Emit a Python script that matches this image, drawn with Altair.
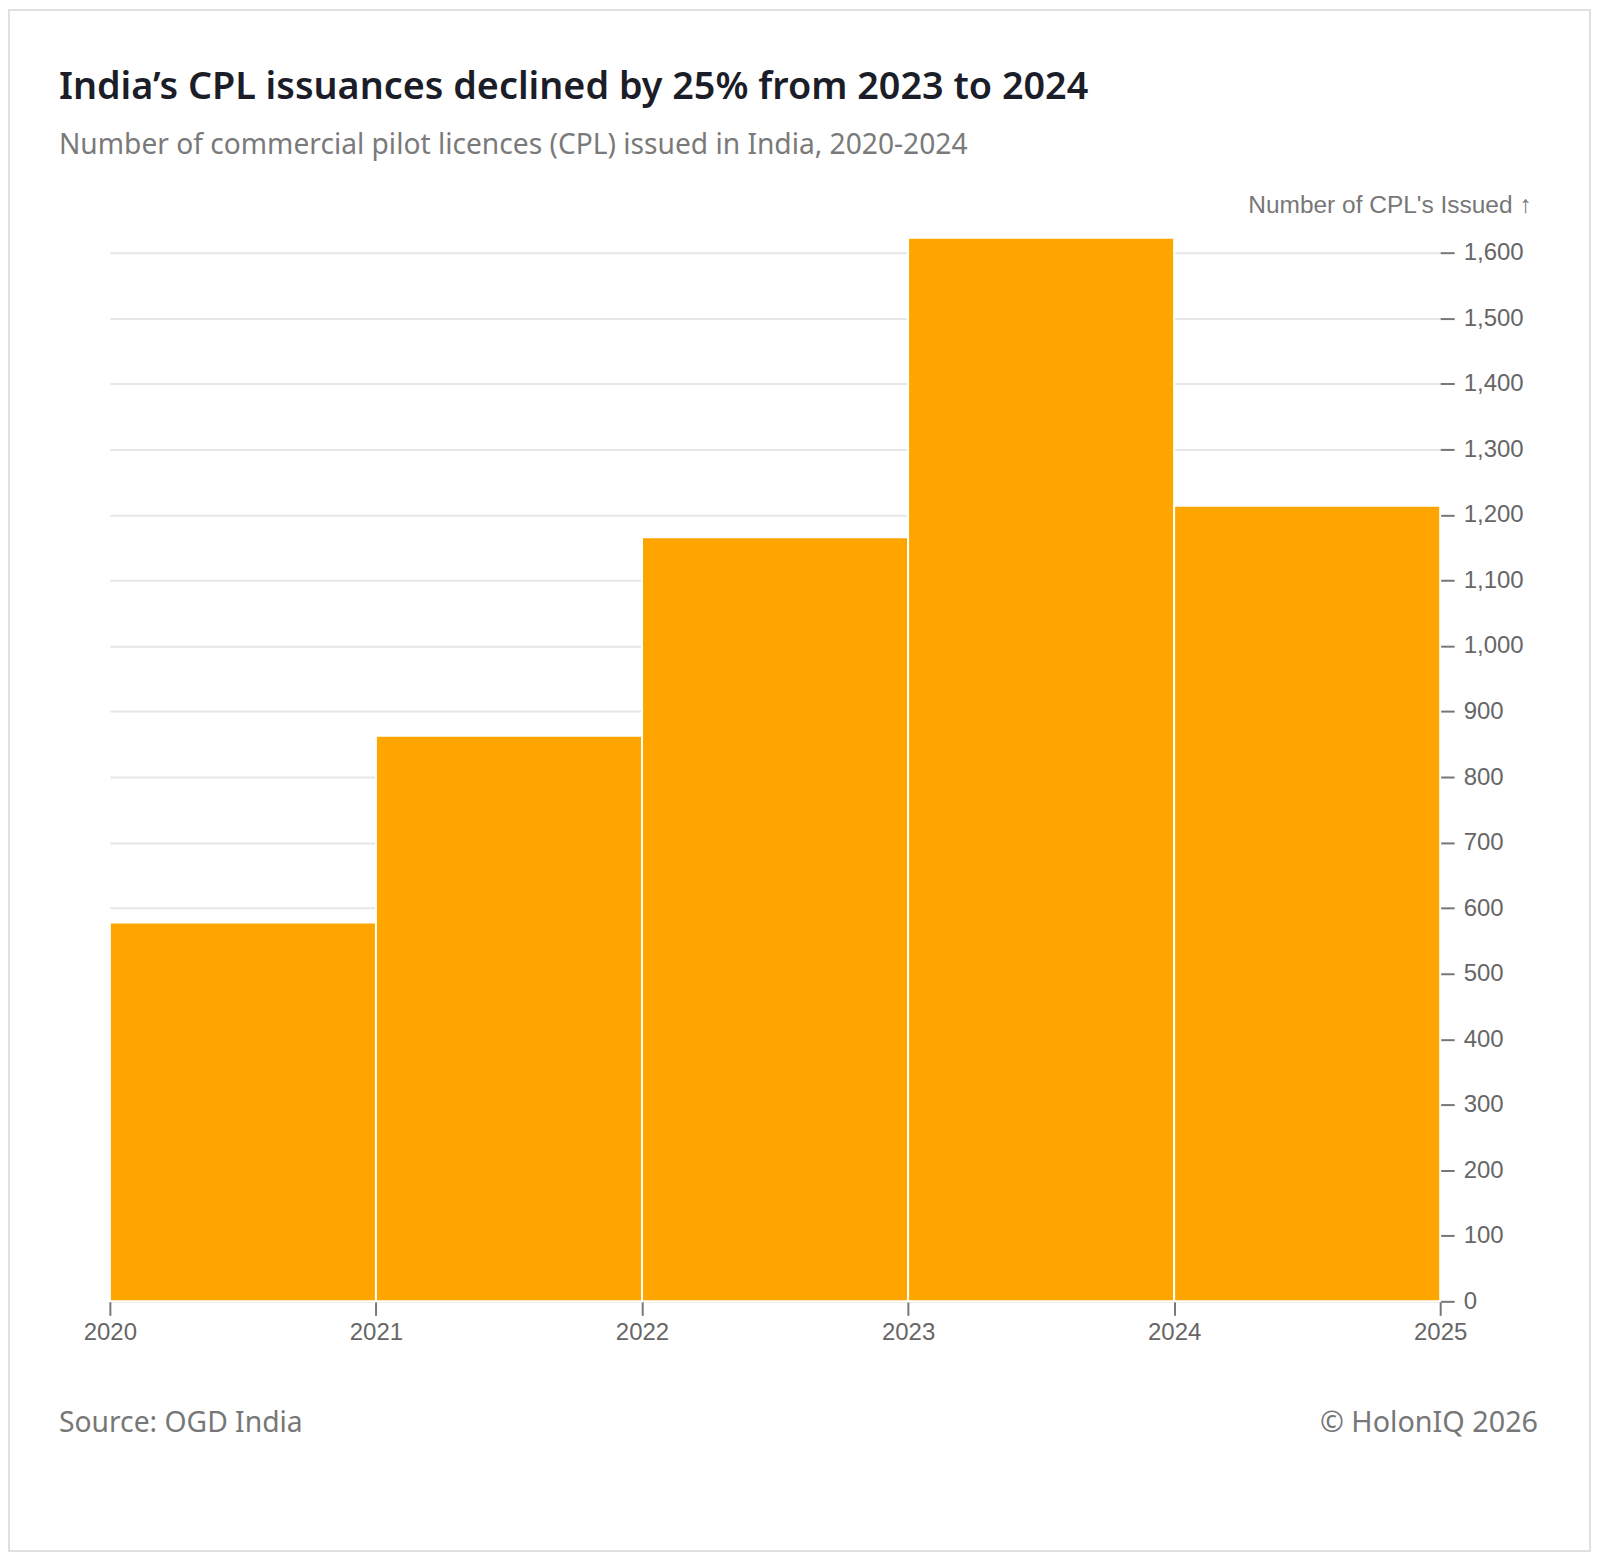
import altair as alt
import pandas as pd

years = [2020, 2021, 2022, 2023, 2024]
year_ends = [2021, 2022, 2023, 2024, 2025]
cpl_issued = [578, 863, 1166, 1623, 1214]
y_ticks = list(range(0, 1700, 100))
x_ticks = [2020, 2021, 2022, 2023, 2024, 2025]

title_text = "India\u2019s CPL issuances declined by 25% from 2023 to 2024"
subtitle_text = "Number of commercial pilot licences (CPL) issued in India, 2020-2024"
source_text = "Source: OGD India"
copyright_text = "\u00a9 HolonIQ 2026"
y_title = "Number of CPL's Issued \u2191"

df = pd.DataFrame({"year": years, "year_end": year_ends, "value": cpl_issued})
one = pd.DataFrame({"k": [0]})

W, H = 1332, 1065
AXIS_FONT = "Liberation Sans"
TEXT_FONT = "Noto Sans"

bars = alt.Chart(df).mark_rect(color="#FFA500", stroke="white", strokeWidth=2).encode(
    x=alt.X(
        "year:Q",
        scale=alt.Scale(domain=[2020, 2025], nice=False, zero=False),
        axis=alt.Axis(
            values=x_ticks, format="d", title=None, domain=False, grid=False,
            tickSize=14, tickWidth=2, tickColor="#777777",
            labelFont=AXIS_FONT, labelFontSize=24, labelColor="#666666",
            labelPadding=5, labelFlush=False,
        ),
    ),
    x2="year_end:Q",
    y=alt.Y(
        "value:Q",
        scale=alt.Scale(domain=[0, max(cpl_issued)], nice=False, zero=True),
        axis=alt.Axis(
            orient="right", values=y_ticks, format=",.0f", domain=False,
            grid=True, gridColor="#e6e6e6", gridWidth=2,
            tickSize=14, tickWidth=2, tickColor="#777777",
            labelFont=AXIS_FONT, labelFontSize=24, labelColor="#666666",
            labelPadding=9, labelFlush=False,
            title=y_title, titleFont=AXIS_FONT, titleFontSize=24.5,
            titleFontWeight="normal", titleColor="#777777", titleAngle=0,
            titleAlign="right", titleBaseline="alphabetic", titleX=91, titleY=-25,
        ),
    ),
    y2=alt.datum(0),
)

border = alt.Chart(one).mark_rect(
    fillOpacity=0, stroke="#e0e0e0", strokeWidth=2
).encode(
    x=alt.value(-101), x2=alt.value(1482), y=alt.value(-228), y2=alt.value(1315)
)

title = alt.Chart(one).mark_text(
    text=title_text, align="left", baseline="alphabetic", font=TEXT_FONT,
    fontSize=37.8, fontWeight=600, color="#1b1e28"
).encode(x=alt.value(-51), y=alt.value(-139))

subtitle = alt.Chart(one).mark_text(
    text=subtitle_text, align="left", baseline="alphabetic", font=TEXT_FONT,
    fontSize=28.2, color="#7a7a7a"
).encode(x=alt.value(-51), y=alt.value(-84))

source = alt.Chart(one).mark_text(
    text=source_text, align="left", baseline="alphabetic", font=TEXT_FONT,
    fontSize=28.3, color="#777777"
).encode(x=alt.value(-51), y=alt.value(1196))

copyright_ = alt.Chart(one).mark_text(
    text=copyright_text, align="right", baseline="alphabetic", font=TEXT_FONT,
    fontSize=28.8, color="#777777"
).encode(x=alt.value(1430), y=alt.value(1196))

chart = alt.layer(border, bars, title, subtitle, source, copyright_).properties(
    width=W, height=H,
    autosize=alt.AutoSizeParams(type="none"),
    padding={"left": 102, "top": 229, "right": 152, "bottom": 252},
    background="white",
).configure_view(stroke=None)

chart.save("out.html", embed_options={"renderer": "svg", "actions": False})
